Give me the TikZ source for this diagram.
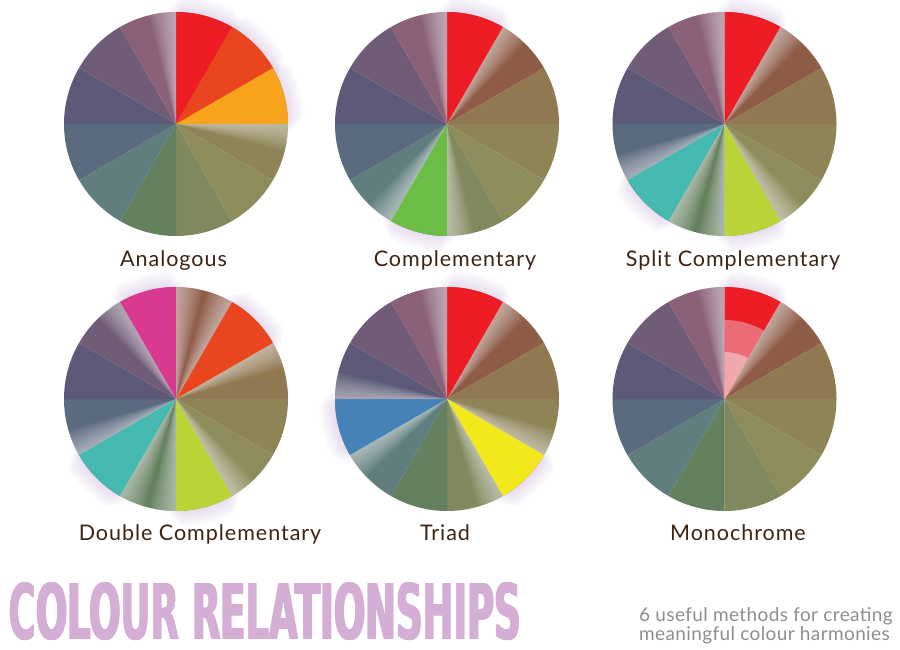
\documentclass[tikz,border=0pt]{standalone}
\usepackage{fontspec}
\usepackage{graphicx}
\setmainfont{Lato}
\newfontfamily\titlefont{DejaVu Sans}
\newfontfamily\lblfont{Lato}[LetterSpace=4.5]
\newfontfamily\subfont{Lato}[LetterSpace=2]
\definecolor{m0}{HTML}{915D4B}
\definecolor{m1}{HTML}{8E5C47}
\definecolor{m2}{HTML}{907850}
\definecolor{m3}{HTML}{8E8456}
\definecolor{m4}{HTML}{8F8C5C}
\definecolor{m5}{HTML}{80895E}
\definecolor{m6}{HTML}{64805E}
\definecolor{m7}{HTML}{5F7E7D}
\definecolor{m8}{HTML}{5A6A7F}
\definecolor{m9}{HTML}{5C5A78}
\definecolor{m10}{HTML}{715C77}
\definecolor{m11}{HTML}{8B6079}
\definecolor{hred}{HTML}{EE1D25}
\definecolor{horange}{HTML}{E9461F}
\definecolor{hamber}{HTML}{F7A31B}
\definecolor{hyellow}{HTML}{F2E81B}
\definecolor{hlime}{HTML}{BAD336}
\definecolor{hgreen}{HTML}{6BBD45}
\definecolor{hteal}{HTML}{45B9B0}
\definecolor{hblue}{HTML}{4583B7}
\definecolor{hmagenta}{HTML}{DA3990}
\definecolor{tintA}{HTML}{EC6B74}
\definecolor{tintB}{HTML}{F0A7AE}
\definecolor{lblc}{HTML}{3C2415}
\definecolor{titlec}{HTML}{D4AED4}
\definecolor{subc}{HTML}{8E8E8E}
\definecolor{haloc}{HTML}{B88FD0}
\tikzset{
  lbl/.style={anchor=base, inner sep=0pt, text=lblc, font=\lblfont\fontsize{21.5}{25}\selectfont},
  subline/.style={anchor=base west, inner sep=0pt, text=subc, font=\subfont\fontsize{19}{24}\selectfont},
  halofill/.style={fill=haloc, fill opacity=0.016},
  glowfill/.style={fill=white, fill opacity=0.05}
}
% wedge: [radius]{center}{index}{colour}
\newcommand\wseg[4][112]{\fill[#4] (#2) -- ++({90-30*(#3)}:#1) arc[start angle={90-30*(#3)}, end angle={60-30*(#3)}, radius=#1] -- cycle;}
\newcommand\wbase[1]{\foreach \i/\cc in {0/m0,1/m1,2/m2,3/m3,4/m4,5/m5,6/m6,7/m7,8/m8,9/m9,10/m10,11/m11}{\wseg{#1}{\i}{\cc}}}
% glow: {center}{edge angle}{direction}
\newcommand\wglow[3]{\foreach \k in {1,...,12}{\fill[glowfill] (#1) -- ++(#2:112) arc[start angle=#2, end angle={#2+(#3)*\k*1.15}, radius=112] -- cycle;}}
% halo: {center}{index}
\newcommand\whalo[2]{\foreach \k in {1,...,18}{\fill[halofill] (#1) -- ++({96-30*(#2)-0.5*\k}:{111+\k}) arc[start angle={96-30*(#2)-0.5*\k}, end angle={54-30*(#2)+0.5*\k}, radius={111+\k}] -- cycle;}}
\newcommand\fatten[1]{\rlap{#1}\rlap{\kern1.2pt#1}\rlap{\kern2.4pt#1}\kern3.6pt#1}
\begin{document}
\begin{tikzpicture}[x=1pt,y=1pt]
\useasboundingbox (0,0) rectangle (900,-650);
\fill[white] (0,0) rectangle (900,-650);
\coordinate (w1) at (176,-124);
\coordinate (w2) at (447,-124);
\coordinate (w3) at (724.5,-124);
\coordinate (w4) at (176,-399);
\coordinate (w5) at (447,-399);
\coordinate (w6) at (724.5,-399);
% Analogous
\whalo{w1}{0}\whalo{w1}{1}\whalo{w1}{2}
\wbase{w1}
\wseg{w1}{0}{hred}\wseg{w1}{1}{horange}\wseg{w1}{2}{hamber}
\wglow{w1}{0}{-1}\wglow{w1}{90}{1}
% Complementary
\whalo{w2}{0}\whalo{w2}{6}
\wbase{w2}
\wseg{w2}{0}{hred}\wseg{w2}{6}{hgreen}
\wglow{w2}{60}{-1}\wglow{w2}{90}{1}\wglow{w2}{-90}{1}\wglow{w2}{-120}{-1}
% Split complementary
\whalo{w3}{0}\whalo{w3}{5}\whalo{w3}{7}
\wbase{w3}
\wseg{w3}{0}{hred}\wseg{w3}{5}{hlime}\wseg{w3}{7}{hteal}
\wglow{w3}{60}{-1}\wglow{w3}{90}{1}\wglow{w3}{-60}{1}\wglow{w3}{-90}{-1}\wglow{w3}{-120}{1}\wglow{w3}{-150}{-1}
% Double complementary
\whalo{w4}{1}\whalo{w4}{5}\whalo{w4}{7}\whalo{w4}{11}
\wbase{w4}
\wseg{w4}{1}{horange}\wseg{w4}{5}{hlime}\wseg{w4}{7}{hteal}\wseg{w4}{11}{hmagenta}
\wglow{w4}{60}{1}\wglow{w4}{90}{-1}\wglow{w4}{30}{-1}\wglow{w4}{120}{1}\wglow{w4}{-60}{1}\wglow{w4}{-90}{-1}\wglow{w4}{-120}{1}\wglow{w4}{-150}{-1}
% Triad
\whalo{w5}{0}\whalo{w5}{4}\whalo{w5}{8}
\wbase{w5}
\wseg{w5}{0}{hred}\wseg{w5}{4}{hyellow}\wseg{w5}{8}{hblue}
\wglow{w5}{60}{-1}\wglow{w5}{90}{1}\wglow{w5}{-30}{1}\wglow{w5}{-60}{-1}\wglow{w5}{-150}{1}\wglow{w5}{-180}{-1}
% Monochrome
\whalo{w6}{0}
\wbase{w6}
\wseg{w6}{0}{hred}\wseg[79]{w6}{0}{tintA}\wseg[47]{w6}{0}{tintB}
\wglow{w6}{60}{-1}\wglow{w6}{90}{1}
% labels
\node[lbl] (l1) at (173.5,-266) {Analogous};
\node[lbl] (l2) at (455,-266) {Complementary};
\node[lbl] (l3) at (733,-266) {Split Complementary};
\node[lbl] (l4) at (200,-540) {Double Complementary};
\node[lbl] (l5) at (445,-540) {Triad};
\node[lbl] (l6) at (738,-540) {Monochrome};
% title
\node[anchor=north west, inner sep=0pt, text=titlec] (title) at (8,-582)
  {\resizebox{514pt}{57pt}{\titlefont\bfseries\fontsize{78}{80}\selectfont\fatten{COLOUR RELATIONSHIPS}}};
\node[subline] (s1) at (639,-621) {6 useful methods for creating};
\node[subline] (s2) at (639,-640) {meaningful colour harmonies};
\end{tikzpicture}
\end{document}
